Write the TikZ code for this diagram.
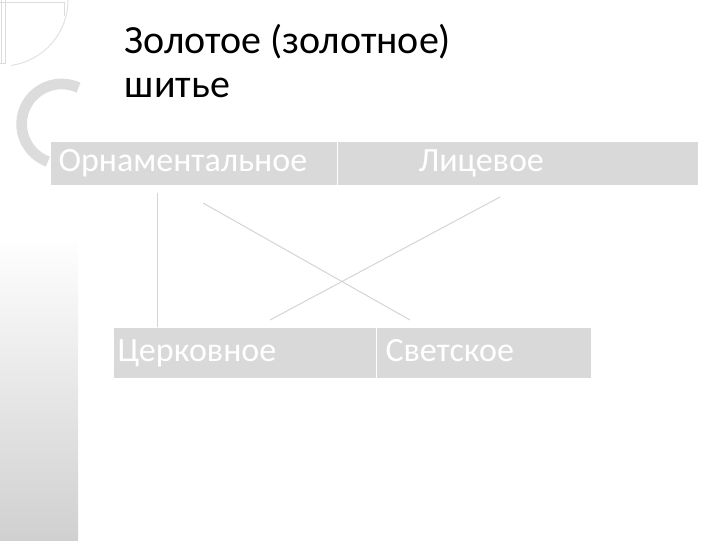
\documentclass[tikz,border=0pt]{standalone}
\usepackage{fontspec}
\setmainfont{Carlito}
\tikzset{every picture/.style={line width=0.75pt}}
\tikzset{
  kindbox/.style={rectangle, anchor=north west, draw={rgb, 255:red, 255; green, 255; blue, 255 }, fill={rgb, 255:red, 217; green, 217; blue, 217 }, text={rgb, 255:red, 255; green, 255; blue, 255 }, inner ysep=0pt, align=left, text height=17pt, text depth=5pt, font=\fontsize{25.5}{28}\selectfont},
  thread/.style={color={rgb, 255:red, 212; green, 212; blue, 212 }, draw opacity=1}
}

\begin{document}
\begin{tikzpicture}[x=0.75pt,y=0.75pt,yscale=-1,xscale=1]
	\useasboundingbox (0,0) rectangle (720,540); %slide 720 x 540

	%left side decoration
	\shade [top color={rgb, 255:red, 255; green, 255; blue, 255 }, bottom color={rgb, 255:red, 208; green, 208; blue, 208 }] (0,235) rectangle (78,540);
	\draw [color={rgb, 255:red, 220; green, 220; blue, 220 }] (1,0) -- (1,63) ;
	\draw [color={rgb, 255:red, 220; green, 220; blue, 220 }] (5,0) -- (5,63) -- (0,63) ;
	\draw [color={rgb, 255:red, 220; green, 220; blue, 220 }] (0,2) -- (64,2) -- (64,16) ;
	\draw [color={rgb, 255:red, 225; green, 225; blue, 225 }] (68,0) arc [start angle=0, end angle=82, radius=66] ;
	\draw [color={rgb, 255:red, 220; green, 220; blue, 220 }, line width=8pt] (78.5,87.7) arc [start angle=-65, end angle=-250, radius=40] ;

	%title
	\draw (120,97) node (title) [anchor=base west, align=left, font=\fontsize{30}{32.5}\selectfont] {Золотое (золотное)\\шитье};

	%upper boxes
	\draw (50,141) node (orn) [kindbox, minimum height=33pt, inner xsep=6pt, text width=203.25pt] {Орнаментальное};
	\draw (337,141) node (lic) [kindbox, minimum height=33pt, inner xsep=60.75pt, text width=149.25pt] {Лицевое};

	%lower boxes
	\draw (113,327) node (tser) [kindbox, minimum height=38.25pt, inner xsep=3pt, text width=191.25pt] {Церковное};
	\draw (376,327) node (svet) [kindbox, minimum height=38.25pt, inner xsep=6.75pt, text width=147.75pt] {Светское};

	%connectors
	\coordinate (ornfoot) at (157,193);
	\coordinate (ornx) at (203,203);
	\coordinate (licx) at (500,197);
	\coordinate (svettop) at (410,320);
	\coordinate (tsertop) at (270,320);
	\draw [thread] (ornfoot) -- (ornfoot |- tser.north) ;
	\draw [thread] (ornx) -- (svettop) ;
	\draw [thread] (licx) -- (tsertop) ;

\end{tikzpicture}
\end{document}
